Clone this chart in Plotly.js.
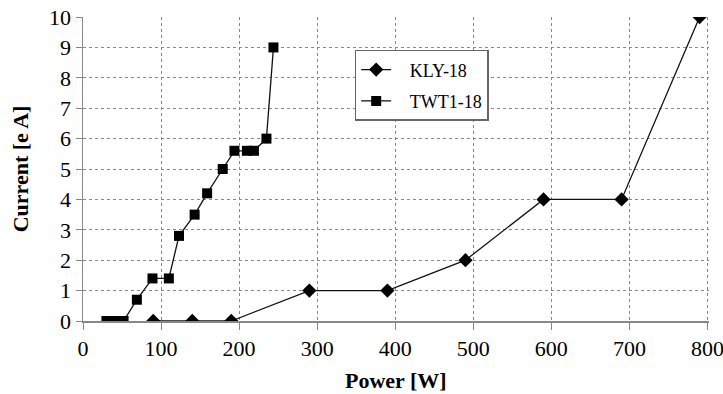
<!DOCTYPE html>
<html>
<head>
<meta charset="utf-8">
<script src="https://cdn.plot.ly/plotly-3.0.1.min.js"></script>
<style>html,body{margin:0;padding:0;background:#fff;}#chart{width:723px;height:394px;}</style>
</head>
<body>
<div id="chart"></div>
<script>
const klyPower = [90, 140, 190, 290, 390, 490, 590, 690, 790];
const klyCurrent = [0, 0, 0, 1, 1, 2, 4, 4, 10];
const twtPower = [30, 38, 45, 52, 69, 89, 110, 123, 143, 159, 179, 194, 210, 219, 235, 244];
const twtCurrent = [0, 0, 0, 0, 0.7, 1.4, 1.4, 2.8, 3.5, 4.2, 5.0, 5.6, 5.6, 5.6, 6.0, 9.0];
const xTicks = [0, 100, 200, 300, 400, 500, 600, 700, 800];
const yTicks = [0, 1, 2, 3, 4, 5, 6, 7, 8, 9, 10];
const xTitle = 'Power [W]';
const yTitle = 'Current [e A]';

const serif = 'Liberation Serif, Times New Roman, serif';
const pad = '\u00a0\u00a0\u00a0';
const traces = [
  {x: klyPower, y: klyCurrent, name: pad + 'KLY-18', type: 'scatter', mode: 'lines+markers',
   legendgroup: 'a',
   line: {color: '#111', width: 1.3}, marker: {symbol: 'diamond', size: 11, color: '#000'}},
  {x: twtPower, y: twtCurrent, name: pad + 'TWT1-18', type: 'scatter', mode: 'lines+markers',
   legendgroup: 'b',
   line: {color: '#111', width: 1.3}, marker: {symbol: 'square', size: 10, color: '#000'}}
];
const layout = {
  width: 723, height: 394,
  margin: {l: 83, r: 14, t: 17, b: 73},
  paper_bgcolor: '#fff', plot_bgcolor: '#fff',
  font: {family: serif, color: '#000'},
  showlegend: true,
  legend: {x: 0.434, y: 0.892, xanchor: 'left', yanchor: 'top',
    bgcolor: '#fff', bordercolor: '#666', borderwidth: 1.5,
    font: {family: serif, size: 18, color: '#000'},
    traceorder: 'grouped', tracegroupgap: 5},
  xaxis: {range: [0, 802], tickvals: xTicks, ticktext: xTicks.map(String),
    showgrid: true, gridcolor: '#888', griddash: 'dot', gridwidth: 1,
    showline: true, linecolor: '#888', linewidth: 1.5,
    ticks: 'outside', ticklen: 7, tickcolor: '#888',
    ticklabeloverflow: 'allow',
    zeroline: false,
    tickfont: {family: serif, size: 22, color: '#000'}},
  yaxis: {range: [0, 10.001], tickvals: yTicks, ticktext: yTicks.map(String),
    showgrid: true, gridcolor: '#888', griddash: 'dot', gridwidth: 1,
    showline: true, linecolor: '#888', linewidth: 1.5,
    ticks: 'outside', ticklen: 6, tickcolor: '#888',
    zeroline: false,
    tickfont: {family: serif, size: 22, color: '#000'},
    title: {text: '<b>' + yTitle + '</b>', font: {family: serif, size: 22, color: '#000'}, standoff: 14}},
  annotations: [
    {text: '<b>' + xTitle + '</b>', xref: 'paper', yref: 'paper', x: 0.5, y: -0.197,
     xanchor: 'center', yanchor: 'middle', showarrow: false,
     font: {family: serif, size: 22, color: '#000'}}
  ]
};
Plotly.newPlot('chart', traces, layout, {displayModeBar: false, staticPlot: true});
</script>
</body>
</html>
